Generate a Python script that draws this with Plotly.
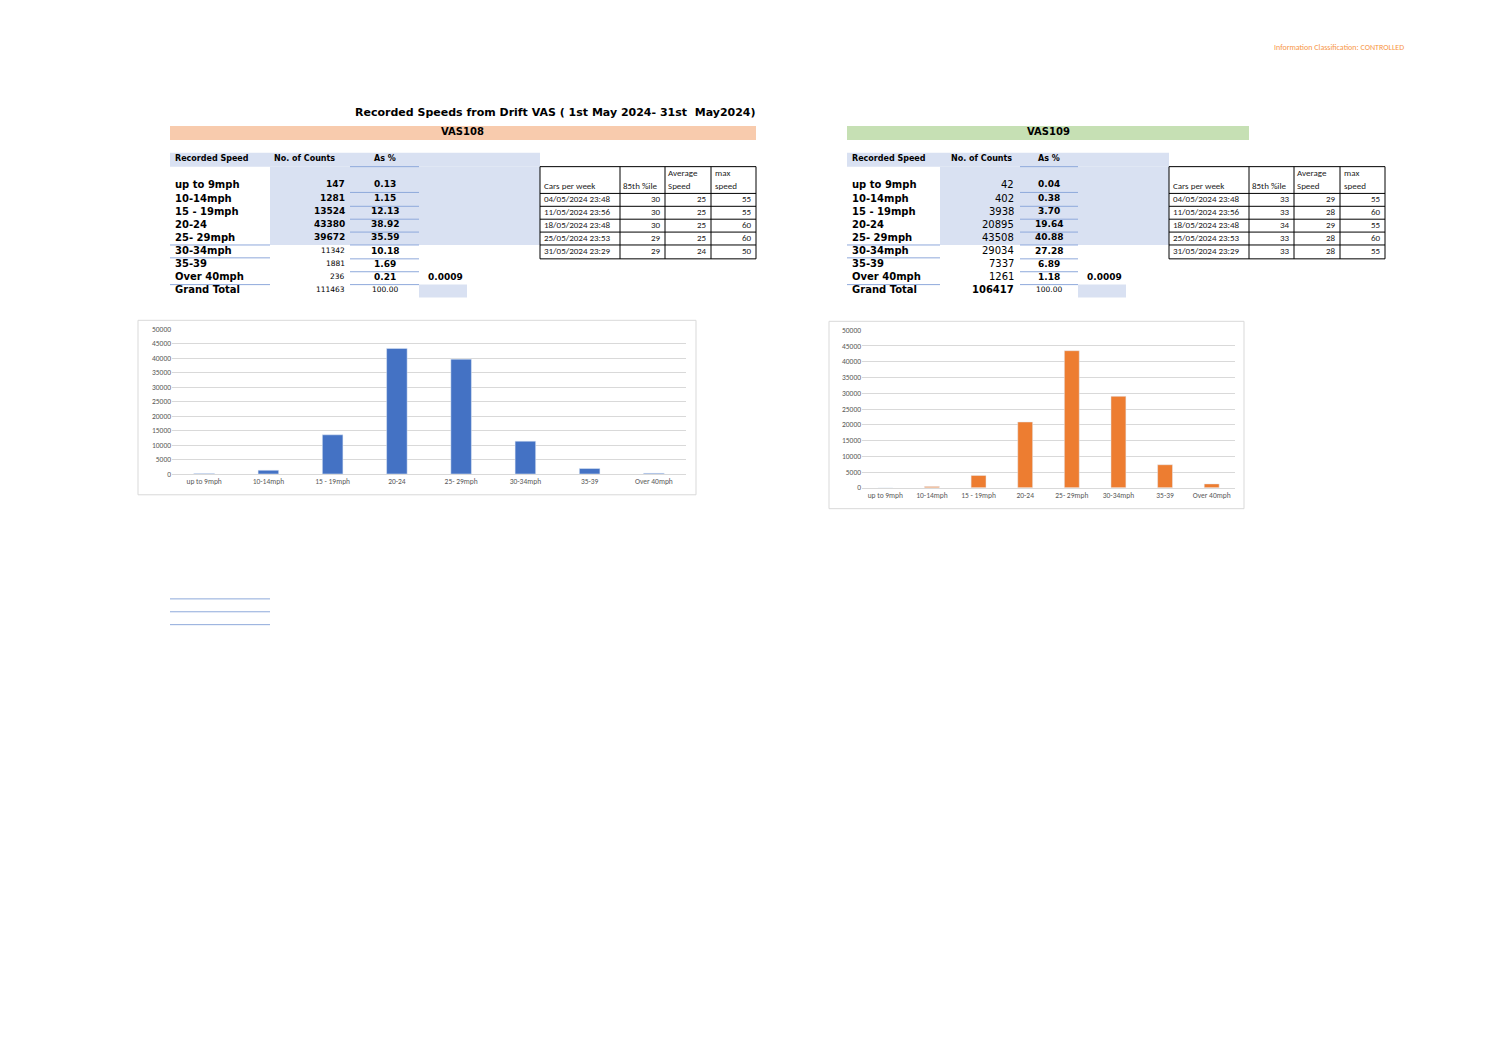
import plotly.graph_objects as go

W, H = 1497, 1058
FW, FH = W - 16, H - 16
def px(x): return (x - 8) / FW
def py(y): return 1 - (y - 8) / FH

categories = ["up to 9mph", "10-14mph", "15 - 19mph", "20-24", "25- 29mph", "30-34mph", "35-39", "Over 40mph"]
row_labels = ["up to 9mph", "10-14mph", "15 - 19mph", "20-24", "25- 29mph", "30-34mph", "35-39", "Over 40mph", "Grand Total"]
vas108_counts = [147, 1281, 13524, 43380, 39672, 11342, 1881, 236]
vas108_total = 111463
vas108_pct = ["0.13", "1.15", "12.13", "38.92", "35.59", "10.18", "1.69", "0.21", "100.00"]
vas109_counts = [42, 402, 3938, 20895, 43508, 29034, 7337, 1261]
vas109_total = 106417
vas109_pct = ["0.04", "0.38", "3.70", "19.64", "40.88", "27.28", "6.89", "1.18", "100.00"]
week_dates = ["04/05/2024 23:48", "11/05/2024 23:56", "18/05/2024 23:48", "25/05/2024 23:53", "31/05/2024 23:29"]
vas108_85 = [30, 30, 30, 29, 29]
vas108_avg = [25, 25, 25, 25, 24]
vas108_max = [55, 55, 60, 60, 50]
vas109_85 = [33, 33, 34, 33, 33]
vas109_avg = [29, 28, 29, 28, 28]
vas109_max = [55, 60, 55, 60, 55]
yticks = [0, 5000, 10000, 15000, 20000, 25000, 30000, 35000, 40000, 45000, 50000]

FONT = "Verdana, DejaVu Sans, sans-serif"
CAL = "Carlito, Liberation Sans, sans-serif"
BLUE_FILL = "#D9E1F2"
BLUE_LINE = "#8EA9DB"

fig = go.Figure()
fig.add_trace(go.Bar(x=categories, y=vas108_counts, marker_color="#4472C4", xaxis="x", yaxis="y", showlegend=False))
fig.add_trace(go.Bar(x=categories, y=vas109_counts, marker_color="#ED7D31", xaxis="x2", yaxis="y2", showlegend=False))

shapes = []
ann = []
def rect(x0, y0, x1, y1, fill=None, line=None, lw=1):
    shapes.append(dict(type="rect", xref="paper", yref="paper", x0=px(x0), x1=px(x1), y0=py(y1), y1=py(y0),
                       fillcolor=fill or "rgba(0,0,0,0)", line=dict(color=line or "rgba(0,0,0,0)", width=lw if line else 0), layer="below"))
def hline(x0, x1, y, color=BLUE_LINE, w=1):
    shapes.append(dict(type="line", xref="paper", yref="paper", x0=px(x0), x1=px(x1), y0=py(y), y1=py(y), line=dict(color=color, width=w)))
def vline(x, y0, y1, color="black", w=1):
    shapes.append(dict(type="line", xref="paper", yref="paper", x0=px(x), x1=px(x), y0=py(y0), y1=py(y1), line=dict(color=color, width=w)))
def text(x, y, s, size=10, bold=False, align="left", color="black", font=FONT):
    ann.append(dict(x=px(x), y=py(y - 1), xref="paper", yref="paper", text=f"<b>{s}</b>" if bold else s, showarrow=False,
                    xanchor=align, yanchor="middle", font=dict(size=size, color=color, family=font)))

text(1406, 44, "Information Classification: CONTROLLED", 8, align="right", color="#F79646", font=CAL)
text(555, 110, "Recorded Speeds from Drift VAS ( 1st May 2024- 31st  May2024)", 11, True, "center")

rows_y = [183, 197, 210, 223, 236, 250, 263, 276, 289]

def block(x0, band_x1, band_col, name, counts, total, pct, cx, cnt_bold_n, cnt_right, pct_c, extra_x, t_x0, p85, avg, mx, right_style):
    rect(x0, 123, band_x1, 137, band_col)
    text((x0 + band_x1) / 2, 130, name, 10, True, "center")
    rect(x0, 150, t_x0, 164, BLUE_FILL)
    rect(cx, 164, t_x0, 243, BLUE_FILL)
    rect(extra_x, 283, extra_x + 48, 296, BLUE_FILL)
    text(x0 + 3, 157, "Recorded Speed", 8, True)
    text(x0 + 102, 157, "No. of Counts", 8, True)
    text(pct_c, 157, "As %", 8, True, "center")
    hline(cx + 80, extra_x, 164)
    for i, lab in enumerate(row_labels):
        y = rows_y[i]
        text(x0 + 3, y, lab, 10, True)
        if i < 8:
            v = counts[i]
            if right_style:
                text(cnt_right, y, str(v), 10, False, "right")
            else:
                text(cnt_right, y, str(v), 9 if i < cnt_bold_n else 7.5, i < cnt_bold_n, "right")
        else:
            if right_style:
                text(cnt_right, y, str(total), 10, True, "right")
            else:
                text(cnt_right, y, str(total), 7.5, False, "right")
        text(pct_c, y, pct[i], 9 if i < 8 else 7.5, i < 8, "center")
        if i < 8:
            hline(cx + 80, extra_x, y + 7)
    for y in (243, 256, 283):
        hline(x0, cx, y)
    text(extra_x + 7, 276, "0.0009", 9, True)
    cols = [t_x0, t_x0 + 80, t_x0 + 125, t_x0 + 171, t_x0 + 216]
    tops = [164, 191, 204, 217, 230, 243, 257]
    for y in tops:
        hline(cols[0], cols[-1], y, "black")
    for x in cols:
        vline(x, 164, 257)
    tc = "#222222"
    text(cols[0] + 2, 184, "Cars per week", 9, font=CAL, color=tc)
    text(cols[1] + 1, 184, "85th %ile", 9, font=CAL, color=tc)
    text(cols[2] + 1, 171, "Average", 9, font=CAL, color=tc)
    text(cols[2] + 1, 184, "Speed", 9, font=CAL, color=tc)
    text(cols[3] + 2, 171, "max", 9, font=CAL, color=tc)
    text(cols[3] + 2, 184, "speed", 9, font=CAL, color=tc)
    for r in range(5):
        yc = (tops[r + 1] + tops[r + 2]) / 2
        text(cols[0] + 2, yc, week_dates[r], 9, font=CAL, color=tc)
        text(cols[2] - 2, yc, str(p85[r]), 9, align="right", font=CAL, color=tc)
        text(cols[3] - 2, yc, str(avg[r]), 9, align="right", font=CAL, color=tc)
        text(cols[4] - 2, yc, str(mx[r]), 9, align="right", font=CAL, color=tc)

block(170, 756, "#F8CBAD", "VAS108", vas108_counts, vas108_total, vas108_pct, 270, 5, 347, 385, 419, 540,
      vas108_85, vas108_avg, vas108_max, False)
block(847, 1249, "#C6E0B4", "VAS109", vas109_counts, vas109_total, vas109_pct, 940, 0, 1016, 1049, 1078, 1169,
      vas109_85, vas109_avg, vas109_max, True)

rect(138, 319, 696, 495, None, "#D9D9D9")
rect(829, 320, 1244, 509, None, "#D9D9D9")
for y in (600, 613, 626):
    hline(170, 270, y)

ax = dict(showgrid=False, showline=True, linecolor="#D9D9D9", ticks="", tickfont=dict(size=7.5, color="#595959", family=CAL))
ay = dict(range=[0, 50000], tickvals=yticks, ticktext=[str(v) for v in yticks], gridcolor="#D9D9D9",
          zeroline=False, showline=False, tickfont=dict(size=7.5, color="#595959", family=CAL))
fig.update_layout(
    width=FW, height=FH, margin=dict(l=0, r=0, t=0, b=0), paper_bgcolor="white", plot_bgcolor="white",
    bargap=0.68, shapes=shapes, annotations=ann,
    xaxis=dict(domain=[px(172), px(686)], anchor="y", **ax),
    yaxis=dict(domain=[py(474), py(328)], anchor="x", **ay),
    xaxis2=dict(domain=[px(862), px(1235)], anchor="y2", **ax),
    yaxis2=dict(domain=[py(488), py(329)], anchor="x2", **ay),
)
fig.write_html("out.html")
